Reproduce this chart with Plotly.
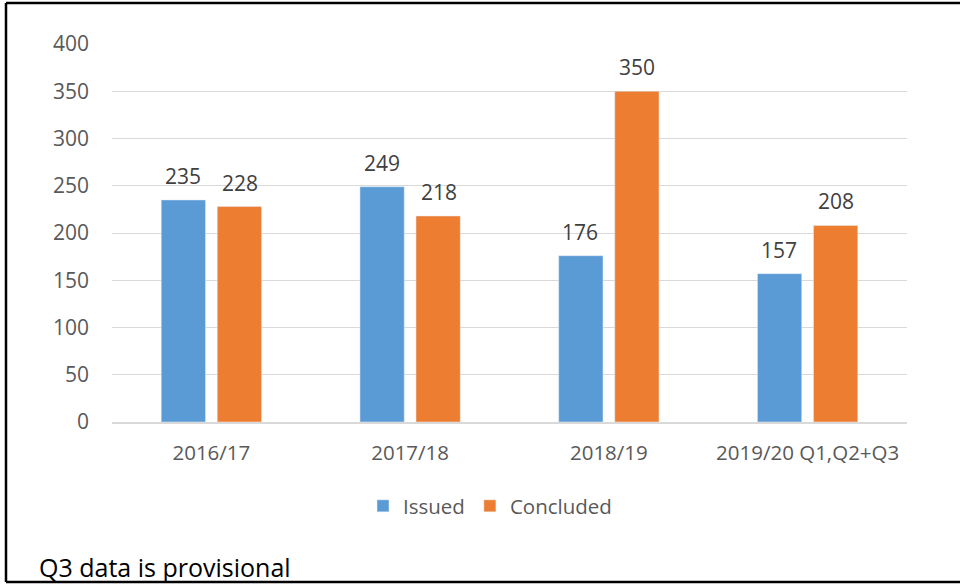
import plotly.graph_objects as go

categories = ["2016/17", "2017/18", "2018/19", "2019/20 Q1,Q2+Q3"]
issued = [235, 249, 176, 157]
concluded = [228, 218, 350, 208]
y_ticks = [0, 50, 100, 150, 200, 250, 300, 350, 400]

W, H = 960, 584
L, R, T, B = 112, 53, 44, 162
pw, ph = W - L - R, H - T - B

def px(x):
    return (x - L) / pw

def py(y):
    return (H - B - y) / ph

FONT = "Open Sans"
GRAY = "#595959"
LABEL = "#404040"

fig = go.Figure()
fig.add_trace(go.Bar(name="Issued", x=categories, y=issued, marker_color="#5B9BD5"))
fig.add_trace(go.Bar(name="Concluded", x=categories, y=concluded, marker_color="#ED7D31"))

# data labels above each bar, positioned from the data values
for vals, shift in ((issued, -28.4), (concluded, 28.4)):
    for c, v in zip(categories, vals):
        fig.add_annotation(x=c, y=v, text=str(v), showarrow=False, xshift=shift,
                           yshift=24, yanchor="middle",
                           font=dict(size=21, color=LABEL, family=FONT))

fig.update_layout(
    width=W, height=H,
    margin=dict(l=L, r=R, t=T, b=B, autoexpand=False),
    paper_bgcolor="white", plot_bgcolor="white",
    barmode="group", bargap=0.436, bargroupgap=0.21,
    font=dict(family=FONT, color=GRAY, size=20),
    legend=dict(orientation="h", x=px(490), xanchor="center", y=py(506), yanchor="middle",
                font=dict(size=20.5, color=GRAY, family=FONT), itemwidth=30,
                traceorder="normal"),
    showlegend=True,
)
fig.update_yaxes(range=[0, 400], tickvals=y_ticks, showgrid=True, gridcolor="#D9D9D9",
                 gridwidth=1, zeroline=False, showline=False, ticks="",
                 tickfont=dict(size=21, color=GRAY, family=FONT), ticklabelstandoff=22)
fig.update_xaxes(showline=True, linecolor="#D9D9D9", linewidth=1.5, ticks="",
                 tickfont=dict(size=20.5, color=GRAY, family=FONT), ticklabelstandoff=12)

border = dict(color="black", width=2.5)
for x0, y0, x1, y1 in ((6, 3, 6, 582), (6, 3, 1100, 3), (6, 582, 1100, 582)):
    fig.add_shape(type="line", xref="paper", yref="paper",
                  x0=px(x0), x1=px(x1), y0=py(y0), y1=py(y1), line=border, layer="above")

fig.add_annotation(text="Q3 data is provisional", xref="paper", yref="paper",
                   x=px(37), xanchor="left", y=py(567), yanchor="middle",
                   showarrow=False, font=dict(size=25, color="black", family=FONT))

fig.write_html("out.html", config={"displayModeBar": False},
               post_script="document.body.style.margin='0';document.body.style.overflow='hidden';")
